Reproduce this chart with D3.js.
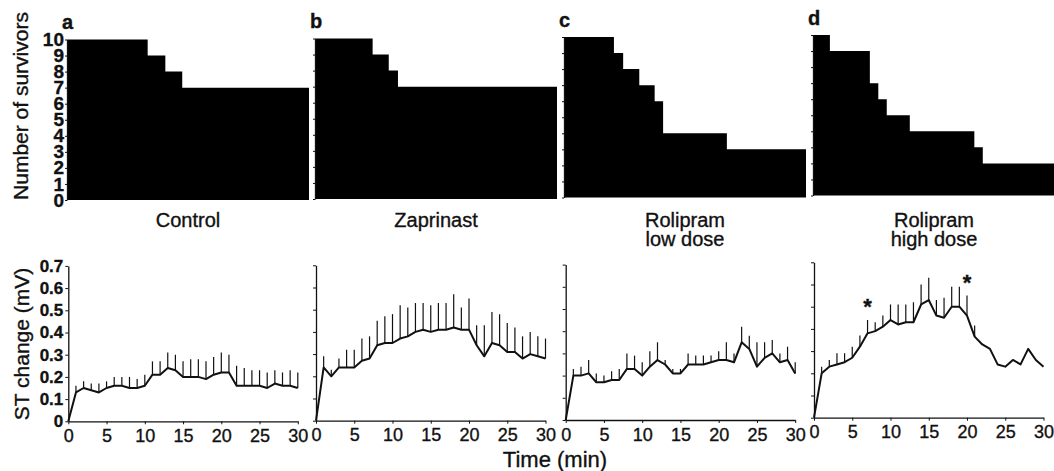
<!DOCTYPE html>
<html lang="en">
<head>
<meta charset="UTF-8">
<title>Survivors and ST change</title>
<script src="https://d3js.org/d3.v7.min.js"></script>
<style>
  html, body { margin: 0; padding: 0; background: #fff; }
  svg text { font-family: "Liberation Sans", Arial, Helvetica, sans-serif; fill: #111; stroke: #111; stroke-width: 0.35px; }
</style>
</head>
<body>
<div id="chart"></div>
<script>
// groups, one column each
const panelLetters = ['a', 'b', 'c', 'd'];
const groupLines = [['Control'], ['Zaprinast'], ['Rolipram', 'low dose'], ['Rolipram', 'high dose']];

// survivors: time (min) of each change and the count from then on
const survTimesA = [0, 10.5, 12.8, 15.0];
const survCountsA = [10, 9, 8, 7];
const survTimesB = [0, 7.5, 9.6, 10.8];
const survCountsB = [10, 9, 8, 7];
const survTimesC = [0, 6.5, 7.7, 9.8, 11.8, 12.9, 21.2];
const survCountsC = [10, 9, 8, 7, 6, 4, 3];
const survTimesD = [0, 2.2, 7.4, 8.5, 9.6, 12.6, 21.0, 22.1];
const survCountsD = [10, 9, 7, 6, 5, 4, 3, 2];
const survEnd = 31.5;
const survTicks = [0, 1, 2, 3, 4, 5, 6, 7, 8, 9, 10];

// ST change (mV), mean and SEM every minute
const minutes = [0, 1, 2, 3, 4, 5, 6, 7, 8, 9, 10, 11, 12, 13, 14, 15, 16, 17, 18, 19, 20, 21, 22, 23, 24, 25, 26, 27, 28, 29, 30];
const stMeanA = [0, .13, .15, .14, .13, .15, .16, .16, .15, .15, .16, .21, .21, .24, .23, .20, .20, .20, .19, .21, .22, .22, .16, .16, .16, .16, .15, .17, .16, .16, .15];
const stErrA  = [0, .03, .03, .03, .04, .03, .04, .04, .05, .04, .05, .06, .06, .07, .07, .07, .08, .08, .08, .08, .09, .08, .09, .08, .07, .07, .07, .06, .06, .07, .07];
const stMeanB = [0, .24, .20, .24, .24, .24, .27, .28, .34, .35, .35, .37, .38, .40, .41, .40, .41, .41, .42, .41, .41, .34, .29, .35, .34, .31, .31, .28, .30, .29, .28];
const stErrB  = [0, .05, .03, .04, .08, .08, .10, .10, .11, .12, .13, .15, .13, .13, .12, .12, .12, .12, .15, .10, .14, .09, .14, .14, .14, .13, .11, .10, .10, .09, .09];
const stMeanC = [0, .20, .20, .21, .17, .17, .18, .18, .23, .23, .20, .24, .27, .25, .21, .21, .25, .25, .25, .26, .27, .27, .26, .35, .32, .24, .28, .30, .26, .27, .21];
const stErrC  = [0, .03, .04, .06, .04, .03, .04, .05, .07, .06, .06, .07, .08, .02, .02, .02, .05, .04, .04, .03, .04, .08, .04, .07, .06, .11, .07, .06, .04, .06, .05];
const stMeanD = [0, .20, .23, .24, .25, .27, .32, .38, .39, .41, .44, .42, .43, .43, .51, .53, .46, .45, .50, .50, .46, .365, .33, .31, .24, .23, .26, .24, .31, .26, .23];
const stErrD  = [0, .03, .03, .05, .04, .05, .05, .06, .04, .05, .07, .09, .08, .09, .09, .10, .07, .09, .09, .09, .09, .05, 0, 0, 0, 0, 0, 0, 0, 0, 0];
const sigMinutesD = [7, 20];
const timeTicks = [0, 5, 10, 15, 20, 25, 30];
const stTicks = [0, 0.1, 0.2, 0.3, 0.4, 0.5, 0.6, 0.7];

const survTimes = [survTimesA, survTimesB, survTimesC, survTimesD];
const survCounts = [survCountsA, survCountsB, survCountsC, survCountsD];
const stMeans = [stMeanA, stMeanB, stMeanC, stMeanD];
const stErrs = [stErrA, stErrB, stErrC, stErrD];

// layout (the scan is slightly tilted, hence the small per-panel shifts)
const topX0 = [67, 315, 564, 813], topW = 242, topDy = [0, -1, -2.5, -4.5];
const botX0 = [68.3, 316, 565.7, 814], botW = 229.5, botDy = [0, -0.6, -1.3, -3.6];

const svg = d3.select('#chart').append('svg')
    .attr('width', 1054)
    .attr('height', 471);

function styleAxis(g, fs, bold) {
    g.select('.domain').attr('stroke', '#111').attr('stroke-width', 1.3);
    g.selectAll('.tick line').attr('stroke', '#111').attr('stroke-width', 1);
    g.selectAll('.tick text')
        .attr('fill', '#111')
        .style('font-size', fs + 'px')
        .style('font-weight', bold ? 'bold' : 'normal')
        .style('font-family', '"Liberation Sans", Arial, sans-serif');
}

for (let i = 0; i < 4; i++) {
    // ---- top: number of survivors ----
    const xs = d3.scaleLinear().domain([0, survEnd]).range([topX0[i], topX0[i] + topW]);
    const ys = d3.scaleLinear().domain([0, 10]).range([200 + topDy[i], 39.5 + topDy[i]]);

    const steps = survTimes[i].map((t, k) => [t, survCounts[i][k]]);
    steps.push([survEnd, survCounts[i][survCounts[i].length - 1]]);

    svg.append('path')
        .datum(steps)
        .attr('fill', '#000')
        .attr('d', d3.area()
            .x(d => xs(d[0]))
            .y0(ys(0))
            .y1(d => ys(d[1]))
            .curve(d3.curveStepAfter));

    const ga = svg.append('g')
        .attr('transform', `translate(${topX0[i]},0)`)
        .call(d3.axisLeft(ys).tickValues(survTicks).tickSize(2).tickSizeOuter(0).tickPadding(1)
            .tickFormat(i === 0 ? d3.format('d') : ''));
    styleAxis(ga, 19, true);

    svg.append('text')
        .attr('x', topX0[i] - 5)
        .attr('y', 29 + topDy[i])
        .style('font-size', '20px')
        .style('font-weight', 'bold')
        .text(panelLetters[i]);

    groupLines[i].forEach((ln, k) => {
        svg.append('text')
            .attr('x', topX0[i] + topW / 2)
            .attr('y', 227 + k * 19)
            .attr('text-anchor', 'middle')
            .style('font-size', '20px')
            .text(ln);
    });

    // ---- bottom: ST change ----
    const xb = d3.scaleLinear().domain([0, 30]).range([botX0[i], botX0[i] + botW]);
    const yb = d3.scaleLinear().domain([0, 0.7]).range([421.3 + botDy[i], 421.3 + botDy[i] - 155.4]);

    const gx = svg.append('g')
        .attr('transform', `translate(0,${yb(0)})`)
        .call(d3.axisBottom(xb).tickValues(timeTicks).tickSize(3).tickSizeOuter(0).tickPadding(5));
    styleAxis(gx, 18, false);

    const gy = svg.append('g')
        .attr('transform', `translate(${botX0[i]},0)`)
        .call(d3.axisLeft(yb).tickValues(stTicks).tickSize(3).tickSizeOuter(0).tickPadding(2)
            .tickFormat(i === 0 ? (d => d === 0 ? '0' : d3.format('.1f')(d)) : ''));
    styleAxis(gy, 17, true);

    const pts = minutes.map((t, k) => ({ t: t, m: stMeans[i][k], e: stErrs[i][k] }));

    svg.append('g')
        .selectAll('line')
        .data(pts.filter(d => d.e > 0))
        .enter()
        .append('line')
        .attr('x1', d => xb(d.t))
        .attr('x2', d => xb(d.t))
        .attr('y1', d => yb(d.m))
        .attr('y2', d => yb(d.m + d.e))
        .attr('stroke', '#111')
        .attr('stroke-width', 1.2);

    svg.append('path')
        .datum(pts)
        .attr('fill', 'none')
        .attr('stroke', '#111')
        .attr('stroke-width', 2)
        .attr('stroke-linejoin', 'round')
        .attr('d', d3.line().x(d => xb(d.t)).y(d => yb(d.m)));

    if (i === 3) {
        svg.append('g')
            .selectAll('text')
            .data(pts.filter(d => sigMinutesD.includes(d.t)))
            .enter()
            .append('text')
            .attr('x', d => xb(d.t))
            .attr('y', d => yb(d.m + d.e) - 6)
            .attr('text-anchor', 'middle')
            .style('font-size', '22px')
            .style('font-weight', 'bold')
            .text('*');
    }
}

// axis titles
svg.append('text')
    .attr('transform', 'translate(28,106) rotate(-90)')
    .attr('text-anchor', 'middle')
    .style('font-size', '21px')
    .text('Number of survivors');

svg.append('text')
    .attr('transform', 'translate(29,344) rotate(-90)')
    .attr('text-anchor', 'middle')
    .style('font-size', '21px')
    .text('ST change (mV)');

svg.append('text')
    .attr('x', 555)
    .attr('y', 467)
    .attr('text-anchor', 'middle')
    .style('font-size', '22px')
    .text('Time (min)');
</script>
</body>
</html>
